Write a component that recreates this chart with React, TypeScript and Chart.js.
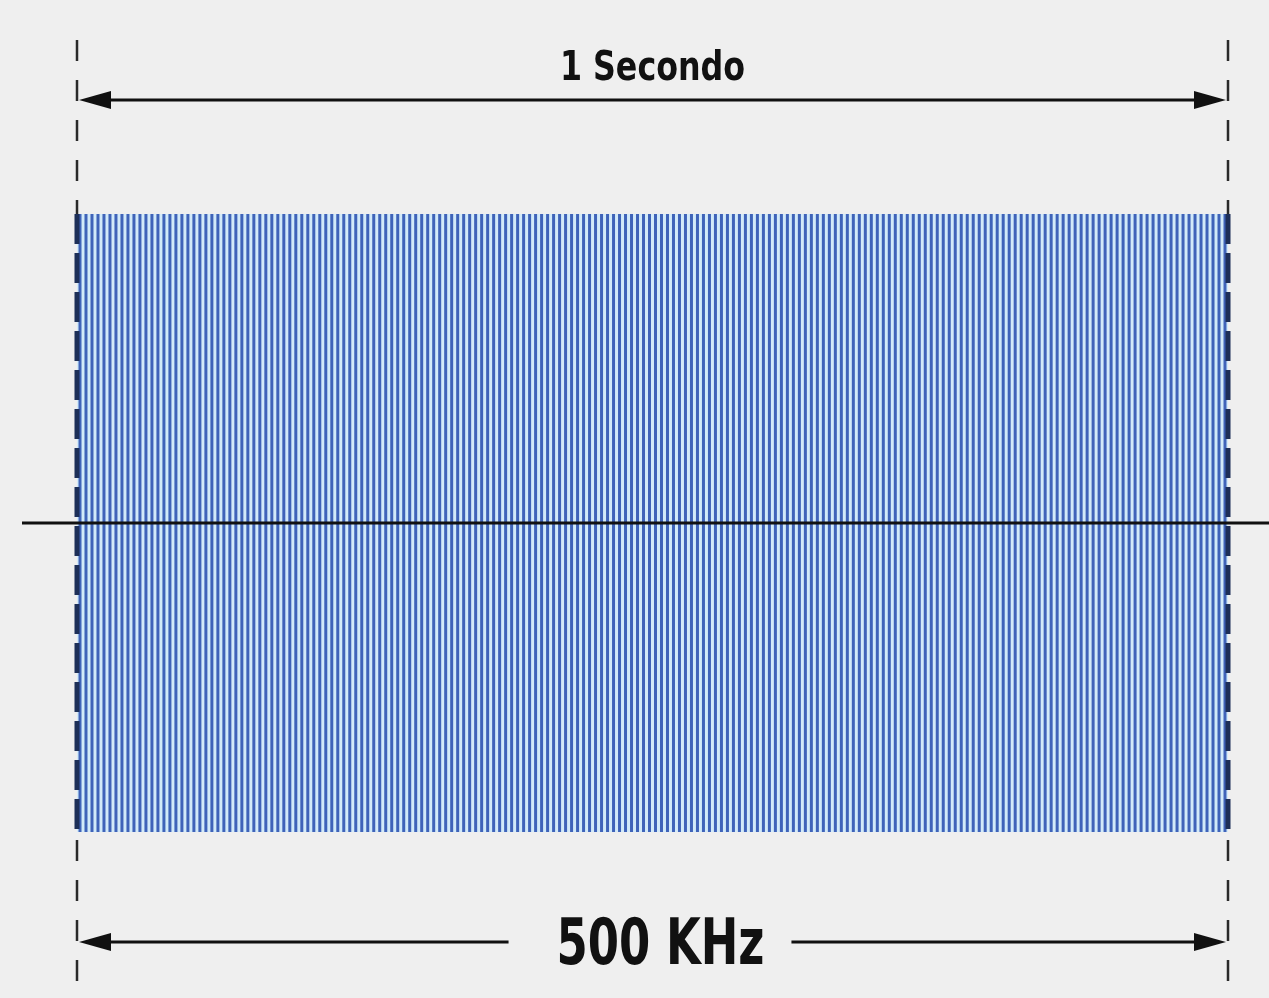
import React, { useEffect, useRef } from "react";
import { Chart, registerables } from "chart.js";

Chart.register(...registerables);

// Signal: constant-amplitude tone, drawn as one stripe per cycle
const cycleCount = 192;
const peakAmplitude = 1;
const troughAmplitude = -1;
const cycleLabels: string[] = Array.from({ length: cycleCount }, (_, i) => String(i + 1));
const cycleRanges: [number, number][] = cycleLabels.map(() => [troughAmplitude, peakAmplitude]);

const topLabel = "1 Secondo";
const bottomLabel = "500 KHz";

const FONT = '"DejaVu Sans Condensed", "Liberation Sans Narrow", sans-serif';

function drawArrowHead(ctx: CanvasRenderingContext2D, x: number, y: number, dir: number) {
  ctx.beginPath();
  ctx.moveTo(x, y);
  ctx.lineTo(x + dir * 32, y - 9);
  ctx.lineTo(x + dir * 32, y + 9);
  ctx.closePath();
  ctx.fill();
}

function drawCondensed(ctx: CanvasRenderingContext2D, text: string, cx: number, y: number, sx: number) {
  ctx.save();
  ctx.translate(cx, y);
  ctx.scale(sx, 1);
  ctx.textAlign = "center";
  ctx.textBaseline = "alphabetic";
  ctx.fillText(text, 0, 0);
  ctx.restore();
}

const overlayPlugin = {
  id: "overlay",
  beforeDatasetsDraw(chart: any) {
    const { ctx, chartArea } = chart;
    const y = chart.scales.y;
    const top = y.getPixelForValue(peakAmplitude);
    const bot = y.getPixelForValue(troughAmplitude);
    ctx.save();
    ctx.fillStyle = "#d2eaf9";
    ctx.fillRect(chartArea.left, top, chartArea.right - chartArea.left, bot - top);
    ctx.restore();
  },
  afterDraw(chart: any) {
    const { ctx, chartArea } = chart;
    const ys = chart.scales.y;
    const left = chartArea.left;
    const right = chartArea.right;
    const top = ys.getPixelForValue(peakAmplitude);
    const bot = ys.getPixelForValue(troughAmplitude);
    const zero = ys.getPixelForValue(0);
    ctx.save();

    // zero line
    ctx.strokeStyle = "#111";
    ctx.lineWidth = 3;
    ctx.beginPath();
    ctx.moveTo(22, zero);
    ctx.lineTo(chart.width, zero);
    ctx.stroke();

    // dashed boundary lines
    [left, right].forEach((x) => {
      ctx.setLineDash([21, 19]);
      ctx.lineDashOffset = -2;
      ctx.lineWidth = 2.5;
      ctx.strokeStyle = "#2a2a2a";
      ctx.beginPath();
      ctx.moveTo(x, 38);
      ctx.lineTo(x, top);
      ctx.moveTo(x, bot + 6);
      ctx.lineTo(x, chart.height);
      ctx.stroke();
      ctx.setLineDash([30, 9]);
      ctx.lineDashOffset = 0;
      ctx.lineWidth = 5;
      ctx.strokeStyle = "#1d2f58";
      ctx.beginPath();
      ctx.moveTo(x, top);
      ctx.lineTo(x, bot);
      ctx.stroke();
    });
    ctx.setLineDash([]);

    // top arrow
    const ay = 100;
    ctx.strokeStyle = "#111";
    ctx.fillStyle = "#111";
    ctx.lineWidth = 3;
    ctx.beginPath();
    ctx.moveTo(left + 20, ay);
    ctx.lineTo(right - 20, ay);
    ctx.stroke();
    drawArrowHead(ctx, left + 2, ay, 1);
    drawArrowHead(ctx, right - 2, ay, -1);

    const cx = (left + right) / 2;
    ctx.font = `bold 41px ${FONT}`;
    drawCondensed(ctx, topLabel, cx, 80, 0.86);

    // bottom arrow
    const by = 942;
    const bx = cx + 8;
    ctx.font = `bold 64px ${FONT}`;
    const sx = 0.78;
    const tw = ctx.measureText(bottomLabel).width * sx;
    ctx.beginPath();
    ctx.moveTo(left + 20, by);
    ctx.lineTo(bx - tw / 2 - 48, by);
    ctx.moveTo(bx + tw / 2 + 27, by);
    ctx.lineTo(right - 20, by);
    ctx.stroke();
    drawArrowHead(ctx, left + 2, by, 1);
    drawArrowHead(ctx, right - 2, by, -1);
    drawCondensed(ctx, bottomLabel, bx, 964, sx);

    ctx.restore();
  },
};

export default function App() {
  const ref = useRef<HTMLCanvasElement | null>(null);
  useEffect(() => {
    if (!ref.current) return;
    const chart = new Chart(ref.current, {
      type: "bar",
      data: {
        labels: cycleLabels,
        datasets: [
          {
            data: cycleRanges as any,
            backgroundColor: "#3f63b9",
            borderWidth: 0,
            barPercentage: 0.5,
            categoryPercentage: 1,
          },
        ],
      },
      options: {
        animation: false,
        responsive: true,
        maintainAspectRatio: false,
        layout: { padding: { left: 77, right: 41, top: 214, bottom: 998 - 832 } },
        plugins: { legend: { display: false }, tooltip: { enabled: false } },
        scales: {
          x: { display: false, grid: { display: false } },
          y: { display: false, min: troughAmplitude, max: peakAmplitude, grid: { display: false } },
        },
      },
      plugins: [overlayPlugin],
    });
    return () => chart.destroy();
  }, []);
  return (
    <div style={{ position: "fixed", left: 0, top: 0, width: 1269, height: 998, background: "#efefef" }}>
      <canvas ref={ref} />
    </div>
  );
}
